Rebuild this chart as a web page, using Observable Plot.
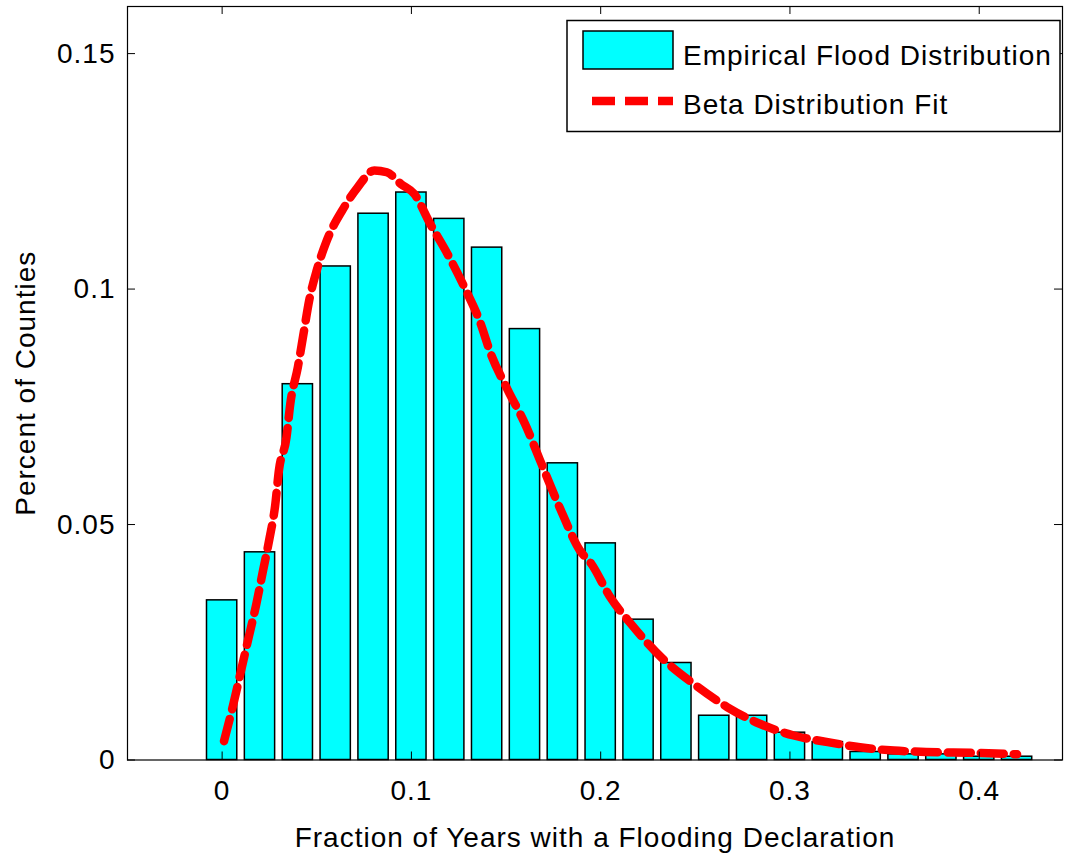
<!DOCTYPE html>
<html>
<head>
<meta charset="utf-8">
<script src="https://cdn.jsdelivr.net/npm/d3@7"></script>
<script src="https://cdn.jsdelivr.net/npm/@observablehq/plot@0.6"></script>
<style>
  body { margin: 0; background: #fff; }
  #wrap { position: relative; width: 1070px; height: 856px; }
</style>
</head>
<body>
<div id="wrap"></div>
<script>
// ---- data ----
const binCenters = [0, 0.02, 0.04, 0.06, 0.08, 0.10, 0.12, 0.14, 0.16, 0.18, 0.20,
                    0.22, 0.24, 0.26, 0.28, 0.30, 0.32, 0.34, 0.36, 0.38, 0.40, 0.42];
const empirical = [0.0339, 0.0441, 0.0798, 0.1048, 0.1160, 0.1205, 0.1149, 0.1088, 0.0915, 0.0630, 0.0460,
                   0.0298, 0.0206, 0.0094, 0.0094, 0.0058, 0.0038, 0.0017, 0.0012, 0.0012, 0.0007, 0.0007];
const fitX = [0.001, 0.006, 0.010, 0.014, 0.018, 0.0215, 0.025, 0.028, 0.030, 0.034, 0.036, 0.040, 0.043,
              0.046, 0.050, 0.055, 0.0645, 0.0716, 0.0804, 0.087, 0.0945, 0.1015, 0.110, 0.119, 0.128,
              0.136, 0.142, 0.151, 0.160, 0.168, 0.179, 0.189, 0.195, 0.205, 0.216, 0.232, 0.249, 0.267,
              0.284, 0.302, 0.320, 0.337, 0.355, 0.372, 0.398, 0.420];
const fitY = [0.004, 0.012, 0.019, 0.026, 0.033, 0.040, 0.047, 0.054, 0.0615, 0.0685, 0.0756, 0.0834, 0.0905,
              0.0976, 0.104, 0.110, 0.1174, 0.1216, 0.1252, 0.1248, 0.1223, 0.1202, 0.1138, 0.1075, 0.1004,
              0.0933, 0.0862, 0.0785, 0.0714, 0.0636, 0.053, 0.0445, 0.0417, 0.0346, 0.0289, 0.0218, 0.0162, 0.0112,
              0.0077, 0.0052, 0.0038, 0.0027, 0.0020, 0.0017, 0.0015, 0.0012];
const xTicks = [0, 0.1, 0.2, 0.3, 0.4];
const yTicks = [0, 0.05, 0.1, 0.15];
const xLabel = "Fraction of Years with a Flooding Declaration";
const yLabel = "Percent of Counties";
const legendLabels = ["Empirical Flood Distribution", "Beta Distribution Fit"];

// ---- layout / style ----
const W = 1070, H = 856, mL = 127, mR = 8, mT = 6, mB = 96.5;
const fw = W - mL - mR, fh = H - mT - mB;
const halfBar = 0.008;
const font = "'Liberation Sans', Arial, Helvetica, sans-serif";
const cyan = "#00ffff", red = "#ff0000";

const bars = binCenters.map((x, i) => ({x, v: empirical[i]}));
const fit = fitX.map((x, i) => ({x, y: fitY[i]}));

const plot = Plot.plot({
  width: W, height: H,
  marginLeft: mL, marginRight: mR, marginTop: mT, marginBottom: mB,
  style: {fontFamily: font, fontSize: "28px", color: "#000", background: "#fff", letterSpacing: "1px", overflow: "visible"},
  x: {domain: [-0.05, 0.444]},
  y: {domain: [0, 0.16]},
  marks: [
    Plot.rect(bars, {x1: d => d.x - halfBar, x2: d => d.x + halfBar, y1: 0, y2: "v",
                     fill: cyan, stroke: "#000", strokeWidth: 1.5}),
    Plot.line(fit, {x: "x", y: "y", stroke: red, strokeWidth: 8.5, strokeDasharray: "23,10", curve: "monotone-x"}),
    Plot.frame({stroke: "#000", strokeWidth: 1.2}),
    Plot.tickX(xTicks, {x: d => d, insetTop: fh - 8, stroke: "#000"}),
    Plot.tickX(xTicks, {x: d => d, insetBottom: fh - 8, stroke: "#000"}),
    Plot.tickY(yTicks, {y: d => d, insetRight: fw - 8, stroke: "#000"}),
    Plot.tickY(yTicks, {y: d => d, insetLeft: fw - 8, stroke: "#000"}),
    Plot.axisX(xTicks, {tickSize: 0, tickPadding: 20, label: null, fontSize: 28, tickFormat: d => String(d)}),
    Plot.axisY(yTicks, {tickSize: 0, tickPadding: 12, label: null, fontSize: 28, tickFormat: d => String(d)}),
    Plot.text([xLabel], {frameAnchor: "bottom", dy: 78, lineAnchor: "middle", textAnchor: "middle", fontSize: 28}),
    Plot.text([yLabel], {frameAnchor: "left", dx: -101, rotate: -90, lineAnchor: "middle", textAnchor: "middle", fontSize: 28})
  ]
});

document.getElementById("wrap").appendChild(plot);

// ---- legend (inside the axes, top-right) ----
const svg = d3.select(plot);
const lg = svg.append("g").attr("font-family", font).attr("font-size", 28)
  .attr("fill", "#000").attr("text-anchor", "start");
lg.append("rect").attr("x", 567).attr("y", 20.5).attr("width", 493).attr("height", 111)
  .attr("fill", "#fff").attr("stroke", "#000").attr("stroke-width", 1.5);
lg.append("rect").attr("x", 583).attr("y", 31).attr("width", 90).attr("height", 38)
  .attr("fill", cyan).attr("stroke", "#000").attr("stroke-width", 1.5);
lg.append("text").attr("x", 683).attr("y", 55).attr("dy", "0.35em").attr("text-anchor", "start").text(legendLabels[0]);
lg.append("line").attr("x1", 592).attr("x2", 673).attr("y1", 101).attr("y2", 101)
  .attr("stroke", red).attr("stroke-width", 8.5).attr("stroke-dasharray", "23,10");
lg.append("text").attr("x", 683).attr("y", 104).attr("dy", "0.35em").attr("text-anchor", "start").text(legendLabels[1]);
</script>
</body>
</html>
